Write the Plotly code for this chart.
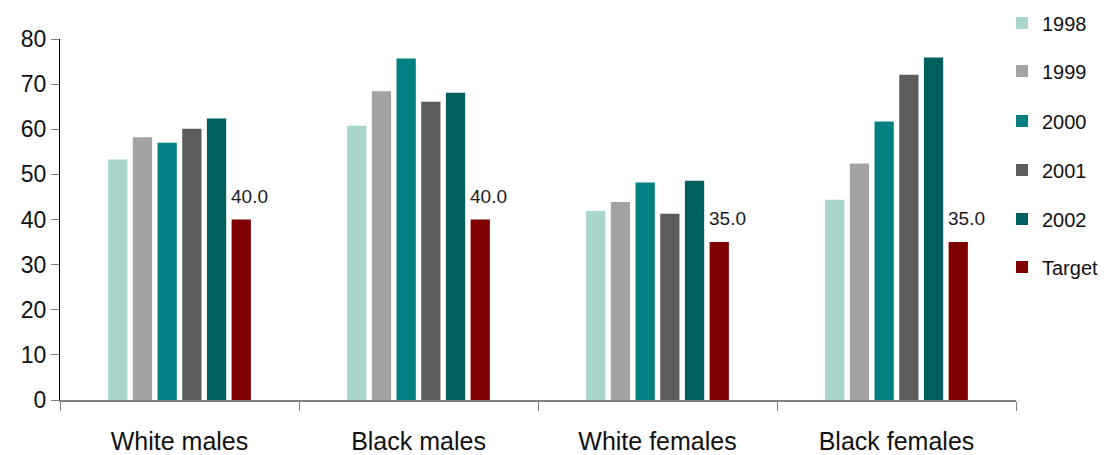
import plotly.graph_objects as go

categories = ["White males", "Black males", "White females", "Black females"]
series_names = ["1998", "1999", "2000", "2001", "2002", "Target"]
v1998 = [53.3, 60.8, 41.9, 44.4]
v1999 = [58.2, 68.4, 43.9, 52.4]
v2000 = [57.0, 75.7, 48.2, 61.7]
v2001 = [60.1, 66.1, 41.3, 72.1]
v2002 = [62.4, 68.1, 48.6, 75.9]
target = [40.0, 40.0, 35.0, 35.0]
y_ticks = [0, 10, 20, 30, 40, 50, 60, 70, 80]

colors = ["#A8D5CC", "#A3A3A3", "#008080", "#5C5C5C", "#005F5F", "#800000"]
all_values = [v1998, v1999, v2000, v2001, v2002, target]

FONT = "Liberation Sans, Arial, sans-serif"

# page body has an 8px margin, so the figure is offset by 8px
OFF = 8
W, H = 1114 - OFF, 455 - OFF
ML, MR, MT, MB = 60 - OFF, 98, 39 - OFF, 55
plot_h = H - MT - MB
plot_w = W - ML - MR
legend_centers_px = [23, 71, 121, 170, 219, 267]

fig = go.Figure()
legend_layout = {}
for i, (name, vals, col) in enumerate(zip(series_names, all_values, colors)):
    lname = "legend" if i == 0 else f"legend{i + 1}"
    fig.add_trace(go.Bar(
        x=categories, y=vals, name=name, marker_color=col,
        marker_line_width=0, legend=lname,
    ))
    legend_layout[lname] = dict(
        x=(plot_w - 14) / plot_w, xanchor="left", xref="paper",
        y=(H - MB - (legend_centers_px[i] - OFF)) / plot_h, yanchor="middle",
        font=dict(size=20, family=FONT, color="#111111"),
        bgcolor="rgba(0,0,0,0)", borderwidth=0, itemwidth=30,
    )

for c, v in zip(categories, target):
    fig.add_annotation(
        x=c, y=v, text=f"{v:.1f}", showarrow=False,
        xanchor="left", yanchor="bottom", xshift=49, yshift=11,
        font=dict(family=FONT, size=19, color="#1a1a1a"),
    )

fig.update_layout(
    width=W, height=H,
    margin=dict(l=ML, r=MR, t=MT, b=MB, autoexpand=False),
    paper_bgcolor="white", plot_bgcolor="white",
    barmode="group", bargap=0.38, bargroupgap=0.22,
    font=dict(family=FONT, color="#111111"),
    showlegend=True,
    xaxis=dict(
        showline=True, linecolor="#808080", linewidth=2,
        ticks="outside", tickson="boundaries", ticklen=9, tickcolor="#808080",
        tickfont=dict(size=25, family=FONT, color="#111111"),
        ticklabelstandoff=18,
        showgrid=False,
    ),
    yaxis=dict(
        range=[0, 80], tickvals=y_ticks,
        showline=True, linecolor="black", linewidth=1,
        ticks="outside", ticklen=8, tickcolor="#808080",
        tickfont=dict(size=23, family=FONT, color="#111111"),
        showgrid=False, zeroline=False,
    ),
    **legend_layout,
)

fig.write_html("out.html")
